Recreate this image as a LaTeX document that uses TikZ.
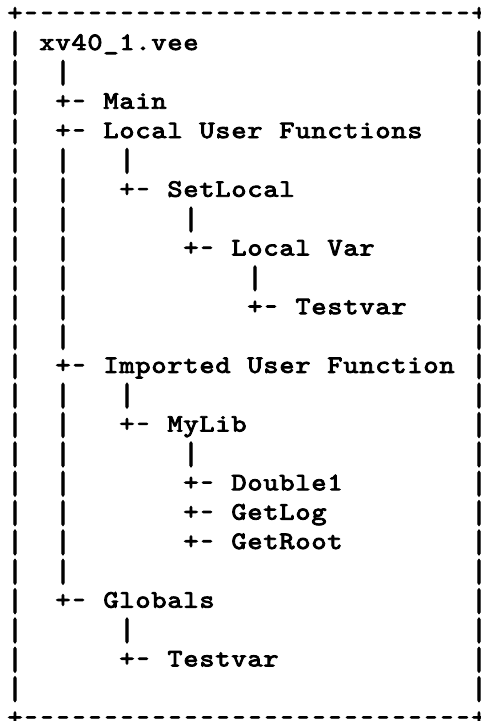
\documentclass[tikz,border=0pt]{standalone}
\usepackage{graphicx}
\usepackage{fontspec}
\newfontfamily\courf{lmmono10-regular}[Extension=.otf, FakeBold=3.5, FakeStretch=1.15]
\def\gtend{\gtend}
\def\gcell#1{\hbox to 16pt{\hss#1\hss}}
\def\vbarc{\raisebox{-6pt}{\resizebox{1.15\width}{25pt}{\raisebox{\depth}{|}}}}
\def\gti#1{\ifx#1\gtend\else
  \ifx#1-\gcell{\scalebox{0.8}[1]{-}}\else
  \ifx#1|\gcell{\vbarc}\else\gcell{#1}\fi\fi
  \expandafter\gti\fi}
\newcommand\gtxt[1]{\gti#1\gtend}
\begin{document}
\begin{tikzpicture}[x=1pt,y=1pt,
  txt/.style={anchor=base west, inner sep=0pt, outer sep=0pt,
    font=\courf\fontsize{25}{29.35}\selectfont}]
\useasboundingbox (0,0) rectangle (481,721);
\newcommand\asc[4]{\node[txt] (#1) at ({7+16*#3},{700.35-29.35*#2}) {\gtxt{#4}};}
% borders
\asc{top}{0}{0}{+----------------------------+}
\asc{bottom}{24}{0}{+----------------------------+}
\foreach \r in {1,...,23} {
  \node[txt] (L\r) at (7,{700.35-29.35*\r}) {\gtxt{|}};
  \node[txt] (R\r) at ({7+16*29},{700.35-29.35*\r}) {\gtxt{|}};
}
% tree
\asc{root}{1}{2}{xv40\_1.vee}
\foreach \r in {2,5,6,7,8,9,10,11,13,14,15,16,17,18,19} {
  \node[txt] (a\r) at ({7+16*3},{700.35-29.35*\r}) {\gtxt{|}};
}
\asc{main}{3}{3}{+-~Main}
\asc{luf}{4}{3}{+-~Local~User~Functions}
\asc{b5}{5}{7}{|}
\asc{setlocal}{6}{7}{+-~SetLocal}
\asc{c7}{7}{11}{|}
\asc{localvar}{8}{11}{+-~Local~Var}
\asc{d9}{9}{15}{|}
\asc{testvar1}{10}{15}{+-~Testvar}
\asc{iuf}{12}{3}{+-~Imported~User~Function}
\asc{b13}{13}{7}{|}
\asc{mylib}{14}{7}{+-~MyLib}
\asc{c15}{15}{11}{|}
\asc{double}{16}{11}{+-~Double1}
\asc{getlog}{17}{11}{+-~GetLog}
\asc{getroot}{18}{11}{+-~GetRoot}
\asc{globals}{20}{3}{+-~Globals}
\asc{b21}{21}{7}{|}
\asc{testvar2}{22}{7}{+-~Testvar}
\end{tikzpicture}
\end{document}
